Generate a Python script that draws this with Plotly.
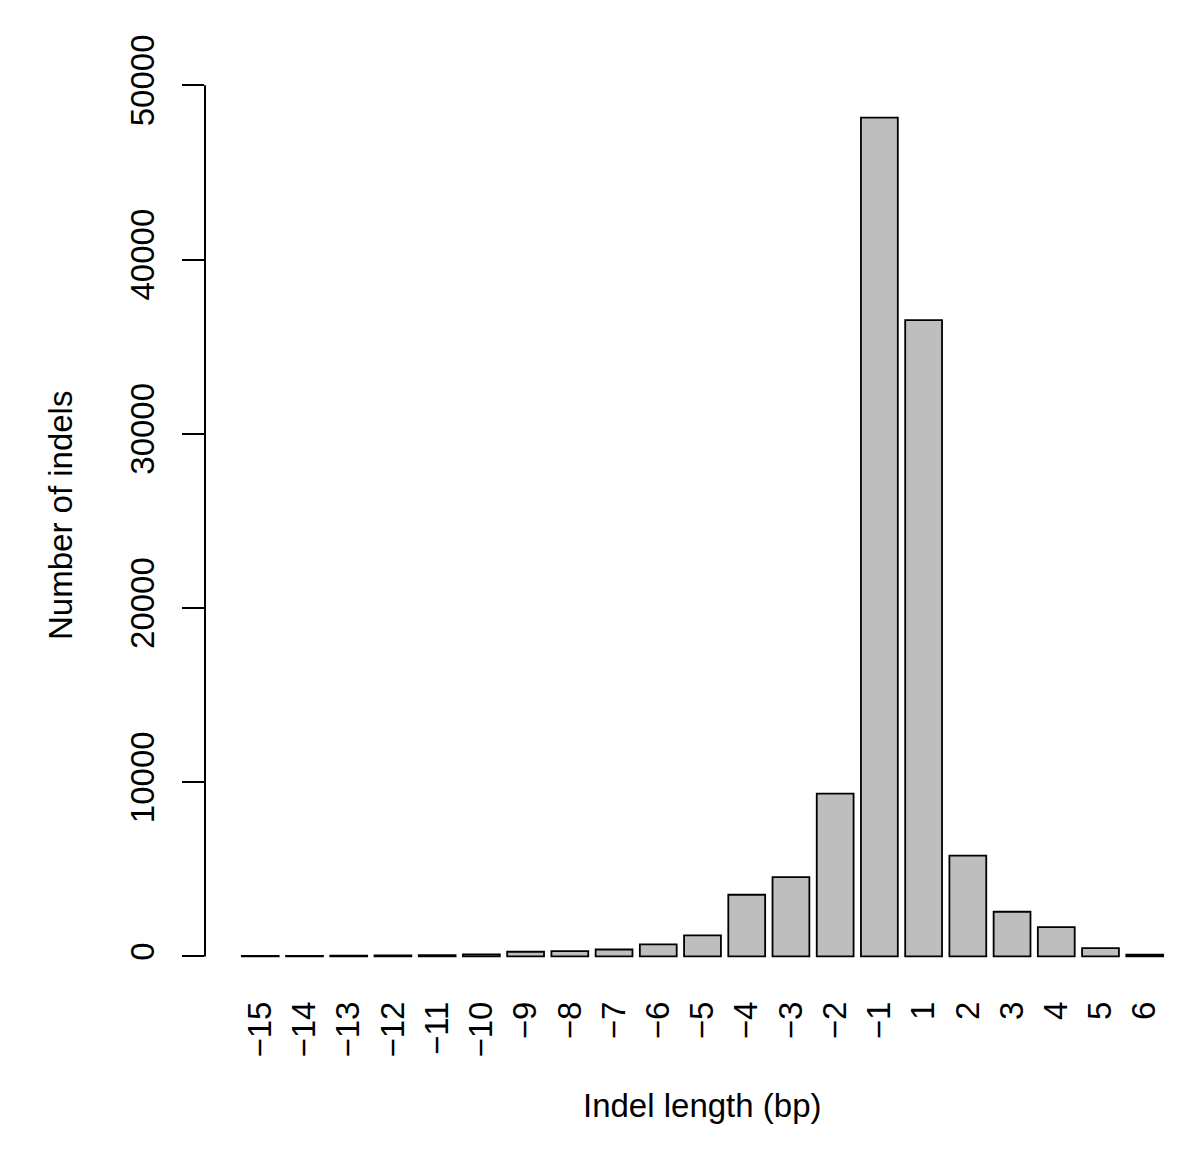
import plotly.graph_objects as go

# Data
lengths = [-15, -14, -13, -12, -11, -10, -9, -8, -7, -6, -5, -4, -3, -2, -1, 1, 2, 3, 4, 5, 6]
counts = [35, 30, 45, 55, 70, 120, 270, 310, 400, 690, 1205, 3540, 4555, 9350, 48150,
          36520, 5790, 2565, 1680, 480, 110]
y_ticks = [0, 10000, 20000, 30000, 40000, 50000]
x_labels = [("\u2212" + str(-v)) if v < 0 else str(v) for v in lengths]

W, H = 1200, 1155
OFF = 8  # page body margin
# target plot area in page pixels
PX0, PX1, PY0, PY1 = 205, 1200, 84, 990
L = PX0 - OFF
T = PY0 - OFF
R = W - (PX1 - OFF)
B = H - (PY1 - OFF)
FONT = "Liberation Sans, Arial, Helvetica, sans-serif"
FS = 33

fig = go.Figure()
fig.add_trace(go.Bar(
    x=x_labels, y=counts,
    marker=dict(color="#BEBEBE", line=dict(color="black", width=1.8)),
    showlegend=False,
))

plot_w = PX1 - PX0
plot_h = PY1 - PY0

fig.update_layout(
    width=W, height=H,
    margin=dict(l=L, r=R, t=T, b=B, pad=0),
    paper_bgcolor="white", plot_bgcolor="white",
    bargap=1 / 6,
    font=dict(family=FONT, size=FS, color="black"),
    xaxis=dict(
        type="category",
        range=[-1.25, 20 + 1.25],
        showline=False, showgrid=False, zeroline=False,
        ticks="", tickangle=-90,
        tickfont=dict(family=FONT, size=FS, color="black"),
        ticklabelstandoff=4,
    ),
    yaxis=dict(
        range=[-1926, 50076],
        showline=False, showgrid=False, zeroline=False,
        tickvals=y_ticks, ticktext=[str(v) for v in y_ticks],
        ticks="outside", ticklen=22, tickwidth=2, tickcolor="black",
        tickangle=-90,
        tickfont=dict(family=FONT, size=FS, color="black"),
        ticklabelstandoff=15,
    ),
    shapes=[dict(type="line", xref="paper", yref="y", x0=0, x1=0,
                 y0=y_ticks[0], y1=y_ticks[-1],
                 line=dict(color="black", width=2))],
    annotations=[
        dict(text="Indel length (bp)", xref="paper", yref="paper",
             x=0.5, y=(PY1 - 1105) / plot_h, xanchor="center", yanchor="middle",
             showarrow=False, font=dict(family=FONT, size=FS, color="black")),
        dict(text="Number of indels", xref="paper", yref="paper",
             x=(60 - PX0) / plot_w, y=(PY1 - 516) / plot_h, textangle=-90,
             xanchor="center", yanchor="middle",
             showarrow=False, font=dict(family=FONT, size=FS, color="black")),
    ],
)

fig.write_html("out.html")
